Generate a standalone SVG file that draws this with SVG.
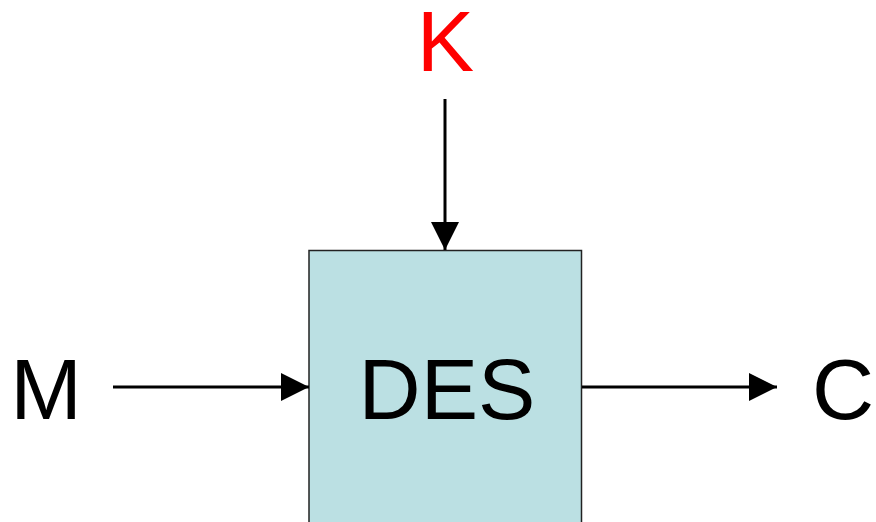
<svg xmlns="http://www.w3.org/2000/svg" width="876" height="522" viewBox="0 0 876 522">
<style>
.lbl{font-family:"Liberation Sans",Arial,sans-serif;font-size:86px;fill:#000}
.conn{stroke:#000;stroke-width:3;fill:none}
</style>
<defs>
<marker id="ah" markerUnits="userSpaceOnUse" markerWidth="28" markerHeight="28" viewBox="0 0 26 26" refX="26" refY="13" orient="auto">
<path d="M0,0 L26,13 L0,26 Z" fill="#000"/>
</marker>
</defs>
<rect width="876" height="522" fill="#fff"/>
<g id="des">
<rect x="309" y="250.5" width="272.5" height="290" fill="#BBE0E3" stroke="#222" stroke-width="1.5"/>
<text class="lbl" x="447" y="419" text-anchor="middle">DES</text>
</g>
<g id="k"><text class="lbl" x="445.5" y="71" text-anchor="middle" style="fill:#FF0000">K</text></g>
<g id="m"><text class="lbl" x="46" y="419" text-anchor="middle">M</text></g>
<g id="c"><text class="lbl" x="843" y="419" text-anchor="middle">C</text></g>
<g id="connectors">
<line class="conn" x1="445" y1="99" x2="445" y2="250" marker-end="url(#ah)"/>
<line class="conn" x1="113" y1="387" x2="309" y2="387" marker-end="url(#ah)"/>
<line class="conn" x1="582" y1="387" x2="777" y2="387" marker-end="url(#ah)"/>
</g>
</svg>
